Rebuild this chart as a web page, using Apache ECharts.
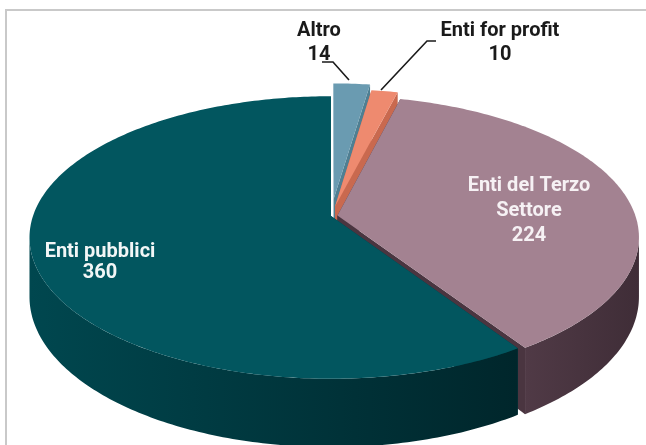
<!DOCTYPE html>
<html>
<head>
<meta charset="utf-8">
<script src="https://cdn.jsdelivr.net/npm/echarts@6/dist/echarts.min.js"></script>
<style>
html, body { margin: 0; padding: 0; background: #fff; }
#main { width: 646px; height: 445px; }
</style>
</head>
<body>
<div id="main"></div>
<script>
// dati
const categories = ['Altro', 'Enti for profit', 'Enti del Terzo Settore', 'Enti pubblici'];
const values = [14, 10, 224, 360];

// aspetto della torta 3D
const CX = 331, CY = 216;       // centro della faccia superiore
const RX = 298, RY = 138;       // raggi
const K = 0.152;                // prospettiva
const H = 58;                   // spessore
const explode = [0.125, 0.07, 0.022, 0];
const topColors = ['#6a9bb1', '#ee8a6f', '#a38291', '#02565f'];
const wallColors = [
  ['#527f92', '#416c7c'],
  ['#d26f55', '#b95c44'],
  ['#503a46', '#3f2d37'],
  ['#00474f', '#00262b']
];
const cutColors = ['#4f7f92', '#c9694f', '#4a3540', '#013c43'];
const textColors = ['#1a1a1a', '#1a1a1a', '#f6f1f4', '#f2f6f6'];

const total = values.reduce((a, b) => a + b, 0);
const starts = [];
let acc = 0;
values.forEach(v => { starts.push(acc / total * Math.PI * 2); acc += v; });
const ends = starts.map((s, i) => s + values[i] / total * Math.PI * 2);

function offset(i) {
  const mid = (starts[i] + ends[i]) / 2;
  return [explode[i] * Math.sin(mid), -explode[i] * Math.cos(mid)];
}
function proj(u, v, depth) {
  const w = 1 / (1 - K * v);
  return [CX + RX * u * w, CY + RY * v * w + depth * w];
}
function edge(theta, off, depth) {
  return proj(Math.sin(theta) + off[0], -Math.cos(theta) + off[1], depth);
}
function arc(a0, a1, off, depth) {
  const n = Math.max(2, Math.ceil(Math.abs(a1 - a0) / 0.015));
  const pts = [];
  for (let k = 0; k <= n; k++) pts.push(edge(a0 + (a1 - a0) * k / n, off, depth));
  return pts;
}

// parte visibile della parete esterna
const VIS0 = Math.acos(-K), VIS1 = Math.PI * 2 - Math.acos(-K);

function renderCuts(params) {
  const i = params.dataIndex;
  const off = offset(i);
  const children = [starts[i], ends[i]].map(a => ({
    type: 'polygon',
    shape: { points: [proj(off[0], off[1], 0), edge(a, off, 0), edge(a, off, H), proj(off[0], off[1], H)] },
    style: { fill: cutColors[i] }
  }));
  return { type: 'group', children };
}

function renderWalls(params) {
  const i = params.dataIndex;
  const off = offset(i);
  const lo = Math.max(starts[i], VIS0), hi = Math.min(ends[i], VIS1);
  if (lo >= hi) return { type: 'group', children: [] };
  const pts = arc(lo, hi, off, 0).concat(arc(hi, lo, off, H));
  return {
    type: 'polygon',
    shape: { points: pts },
    style: {
      fill: new echarts.graphic.LinearGradient(0, 0, 1, 0, [
        { offset: 0, color: wallColors[i][0] },
        { offset: 1, color: wallColors[i][1] }
      ])
    }
  };
}

function renderTops(params) {
  const i = params.dataIndex;
  const off = offset(i);
  const pts = [proj(off[0], off[1], 0)].concat(arc(starts[i], ends[i], off, 0));
  return { type: 'polygon', shape: { points: pts }, style: { fill: topColors[i] } };
}

function wrap(name, max) {
  const lines = [];
  let cur = '';
  name.split(' ').forEach(w => {
    if (cur && (cur + ' ' + w).length > max) { lines.push(cur); cur = w; }
    else cur = cur ? cur + ' ' + w : w;
  });
  lines.push(cur);
  return lines.join('\n');
}

const labelPos = [[319, 43, 24], [500, 43, 24], [529, 211, 25], [100, 262, 21]];
const labels = categories.map((c, i) => ({
  type: 'text',
  z: 10,
  style: {
    text: wrap(c, 15) + '\n' + values[i],
    x: labelPos[i][0], y: labelPos[i][1],
    align: 'center', verticalAlign: 'middle',
    lineHeight: labelPos[i][2],
    font: 'bold 20px Roboto',
    fill: textColors[i]
  }
}));

const chart = echarts.init(document.getElementById('main'), null, { renderer: 'canvas' });
chart.setOption({
  backgroundColor: '#ffffff',
  animation: false,
  graphic: [
    { type: 'rect', z: 0, shape: { x: 6, y: 10, width: 700, height: 500 },
      style: { fill: 'none', stroke: '#c9c9c9', lineWidth: 2 } },
    { type: 'polyline', z: 10, shape: { points: [[322, 62], [333, 62], [349, 80]] },
      style: { stroke: '#1a1a1a', lineWidth: 1.6, fill: null } },
    { type: 'polyline', z: 10, shape: { points: [[436, 41], [427, 41], [381, 90]] },
      style: { stroke: '#1a1a1a', lineWidth: 1.6, fill: null } }
  ].concat(labels),
  series: [
    { type: 'custom', coordinateSystem: 'none', silent: true, z: 1, data: values, renderItem: renderCuts },
    { type: 'custom', coordinateSystem: 'none', silent: true, z: 2, data: values, renderItem: renderWalls },
    { type: 'custom', coordinateSystem: 'none', silent: true, z: 3, data: values, renderItem: renderTops }
  ]
});
</script>
</body>
</html>
